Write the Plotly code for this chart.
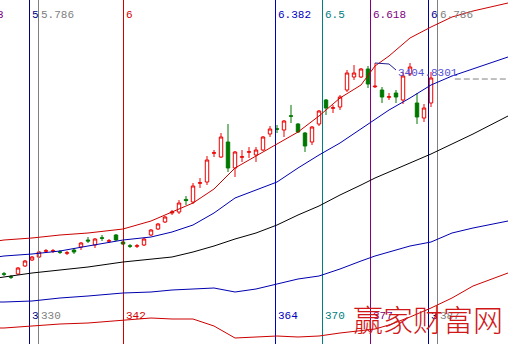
import plotly.graph_objects as go

# ---------------- data ----------------
bar_index = list(range(62))
opens = [2431, 2416, 2430, 2470, 2500, 2515, 2544, 2544, 2541, 2534,
         2550, 2565, 2600, 2575, 2611, 2594, 2625, 2590, 2571, 2569,
         2575, 2625, 2655, 2690, 2735, 2740, 2803, 2790, 2884, 2890,
         3034, 3015, 3090, 2960, 3014, 3039, 3025, 3050, 3130, 3156,
         3150, 3221, 3180, 3135, 3090, 3180, 3300, 3259, 3265, 3350,
         3415, 3415, 3455, 3366, 3350, 3314, 3335, 3300, 3430, 3285,
         3210, 3285]
highs = [2440, 2425, 2465, 2500, 2520, 2545, 2555, 2555, 2550, 2545,
         2560, 2590, 2615, 2610, 2625, 2605, 2630, 2595, 2580, 2580,
         2610, 2655, 2685, 2720, 2750, 2800, 2820, 2885, 2910, 3020,
         3050, 3135, 3180, 3045, 3050, 3065, 3065, 3120, 3170, 3175,
         3200, 3275, 3185, 3140, 3170, 3250, 3305, 3275, 3325, 3450,
         3475, 3460, 3470, 3485, 3365, 3335, 3350, 3440, 3485, 3335,
         3280, 3440]
lows = [2420, 2405, 2425, 2465, 2495, 2510, 2535, 2535, 2530, 2525,
        2530, 2550, 2585, 2560, 2595, 2585, 2595, 2575, 2560, 2560,
        2570, 2620, 2650, 2685, 2725, 2730, 2775, 2780, 2860, 2875,
        3015, 3010, 2940, 2915, 2990, 3010, 2990, 3045, 3115, 3135,
        3115, 3185, 3135, 3040, 3075, 3170, 3225, 3235, 3250, 3340,
        3400, 3410, 3360, 3360, 3285, 3300, 3285, 3280, 3420, 3180,
        3190, 3265]
closes = [2429, 2414, 2460, 2495, 2515, 2540, 2546, 2546, 2539, 2536,
          2540, 2585, 2595, 2605, 2609, 2596, 2600, 2580, 2569, 2571,
          2605, 2650, 2680, 2715, 2740, 2785, 2797, 2870, 2886, 3000,
          3036, 3115, 2960, 3040, 3016, 3041, 3050, 3115, 3155, 3154,
          3195, 3219, 3140, 3070, 3165, 3245, 3260, 3261, 3315, 3435,
          3435, 3455, 3380, 3369, 3315, 3316, 3315, 3420, 3465, 3215,
          3260, 3410]

band_index = [-1, 0, 4, 8, 12, 17, 21, 24, 27, 30, 33, 36, 39, 42, 45,
              48, 51, 53, 55, 58, 61, 64, 67, 72]
upper_outer = [2595, 2600, 2610, 2625, 2635, 2655, 2695, 2740, 2785, 2855,
               2960, 3020, 3080, 3140, 3220, 3310, 3375, 3470, 3520, 3610,
               3665, 3715, 3745, 3785]
upper_inner = [2515, 2520, 2530, 2545, 2570, 2600, 2615, 2640, 2675, 2735,
               2810, 2850, 2890, 2960, 3025, 3085, 3155, 3200, 3250, 3310,
               3375, 3420, 3455, 3515]
middle_line = [2410, 2415, 2435, 2450, 2465, 2490, 2505, 2515, 2540, 2570,
               2605, 2635, 2675, 2725, 2770, 2825, 2875, 2910, 2940, 2985,
               3030, 3080, 3130, 3220]
lower_inner = [2290, 2290, 2295, 2310, 2320, 2335, 2340, 2350, 2355, 2360,
               2340, 2355, 2380, 2405, 2420, 2455, 2495, 2520, 2540, 2570,
               2590, 2635, 2660, 2695]
lower_outer = [2160, 2160, 2170, 2180, 2185, 2200, 2210, 2205, 2205, 2170,
               2110, 2115, 2120, 2115, 2120, 2135, 2145, 2155, 2175, 2215,
               2260, 2310, 2370, 2435]

vline_pos = [3.6429, 4.9286, 17.0714, 38.7857, 45.5, 52.3571, 60.6429, 61.9286]
vline_top = ["5", "5.786", "6", "6.382", "6.5", "6.618", "6", "6.786"]
vline_bottom = ["3", "330", "342", "364", "370", "377", "3", "387"]
vline_colors = ["#000080", "#808080", "#d40000", "#0000c0",
                "#008080", "#800080", "#000090", "#808080"]

price_floor, price_ceiling = 2080, 3800

callout_x = [53, 55, 56]
callout_y = [3485, 3480, 3450]
level_value = 3404.8301
level_start = 64.4
watermark = "赢家财富网"

# ---------------- figure ----------------
fig = go.Figure()

# vertical time lines (drawn first, beneath everything)
for pos, col in zip(vline_pos, vline_colors):
    fig.add_trace(go.Scatter(x=[pos, pos], y=[price_floor, price_ceiling],
                             mode="lines", line=dict(color=col, width=1),
                             hoverinfo="skip"))

band_specs = [
    (upper_outer, "#cc0000"),
    (upper_inner, "#0000b0"),
    (middle_line, "#000000"),
    (lower_inner, "#0000b0"),
    (lower_outer, "#cc0000"),
]
for vals, col in band_specs:
    fig.add_trace(go.Scatter(x=band_index, y=vals, mode="lines",
                             line=dict(color=col, width=1),
                             hoverinfo="skip"))

fig.add_trace(go.Candlestick(
    x=bar_index, open=opens, high=highs, low=lows, close=closes,
    increasing=dict(line=dict(color="#ee0000", width=1), fillcolor="#ffffff"),
    decreasing=dict(line=dict(color="#007800", width=1), fillcolor="#007800"),
    whiskerwidth=0,
))

fig.add_trace(go.Scatter(x=callout_x, y=callout_y, mode="lines",
                         line=dict(color="#202090", width=1),
                         hoverinfo="skip"))
fig.add_trace(go.Scatter(x=[level_start, 72], y=[level_value, level_value],
                         mode="lines",
                         line=dict(color="#808080", width=1, dash="6px,3px"),
                         hoverinfo="skip"))

annotations = []
lab_font = "Liberation Mono"
for pos, top, bot, col in zip(vline_pos, vline_top, vline_bottom, vline_colors):
    annotations.append(dict(x=pos, y=1 - 15 / 344, xref="x", yref="paper",
                            text=top, showarrow=False, xanchor="left",
                            yanchor="middle", xshift=0,
                            font=dict(family=lab_font, size=11, color=col)))
    annotations.append(dict(x=pos, y=1 - 316 / 344, xref="x", yref="paper",
                            text=bot, showarrow=False, xanchor="left",
                            yanchor="middle", xshift=0,
                            font=dict(family=lab_font, size=11, color=col)))

# partially visible label at the left edge
annotations.append(dict(x=0, y=1 - 15 / 344, xref="paper", yref="paper",
                        text="3", showarrow=False, xanchor="center",
                        yanchor="middle",
                        font=dict(family=lab_font, size=11, color="#800080")))

annotations.append(dict(x=56, y=level_value, xref="x", yref="y",
                        text=f"{level_value:.4f}", showarrow=False,
                        xanchor="left", yanchor="middle", yshift=6,
                        font=dict(family=lab_font, size=11, color="#5050d8")))

annotations.append(dict(x=428 / 508, y=1 - 318 / 344, xref="paper",
                        yref="paper", text=watermark, showarrow=False,
                        xanchor="center", yanchor="middle",
                        font=dict(family="Noto Sans CJK SC", size=30,
                                  weight=300, color="#d01818")))

fig.update_layout(
    width=508, height=344,
    margin=dict(l=0, r=0, t=0, b=0),
    paper_bgcolor="white", plot_bgcolor="white",
    showlegend=False,
    annotations=annotations,
    xaxis=dict(range=[-4 / 7, 72], visible=False, showgrid=False,
               zeroline=False, rangeslider=dict(visible=False)),
    yaxis=dict(range=[price_floor, price_ceiling], visible=False,
               showgrid=False, zeroline=False),
)

fig.write_html("out.html")
